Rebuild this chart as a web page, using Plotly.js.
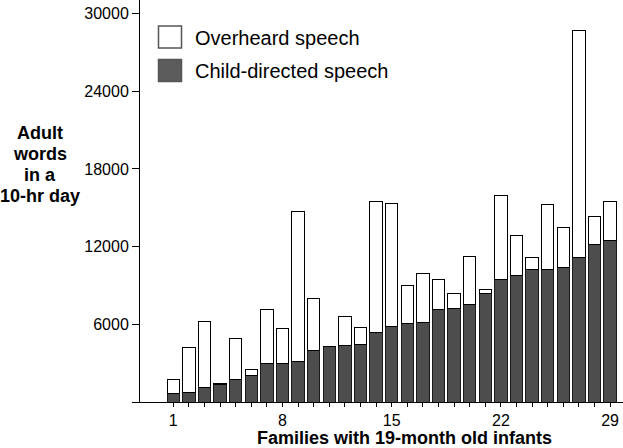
<!DOCTYPE html>
<html>
<head>
<meta charset="utf-8">
<script src="https://cdn.plot.ly/plotly-3.0.1.min.js"></script>
<style>html,body{margin:0;padding:0;background:#fff;}#chart{width:623px;height:448px;}</style>
</head>
<body>
<div id="chart"></div>
<script>
const families = Array.from({length: 29}, (_, i) => i + 1);
const childDirected = [670, 750, 1110, 1350, 1700, 2010, 2940, 2940, 3090, 3940, 4280, 4350, 4480, 5360, 5800, 6060, 6110, 7110, 7240, 7500, 8400, 9430, 9740, 10260, 10260, 10390, 11130, 12140, 12500];
const totalWords = [1700, 4200, 6210, 1450, 4920, 2530, 7110, 5700, 14690, 8020, 4280, 6630, 5770, 15460, 15330, 9020, 9950, 9490, 8400, 11240, 8710, 15950, 12860, 11130, 15280, 13450, 28660, 14360, 15520];
const overheard = totalWords.map((t, i) => Math.max(0, t - childDirected[i]));
const xTickVals = families;
const xTickText = families.map(f => [1, 8, 15, 22, 29].includes(f) ? String(f) : '');
const yTickVals = [0, 6000, 12000, 18000, 24000, 30000];
const yTickText = ['', '6000', '12000', '18000', '24000', '30000'];
const legendNames = ['Overheard speech', 'Child-directed speech'];
const yTitleLines = ['Adult', 'words', 'in a', '10-hr day'];
const xTitle = 'Families with 19-month old infants';
const darkGray = '#4d4d4d';

const traces = [
  {type: 'bar', x: families, y: childDirected, name: legendNames[1],
   marker: {color: darkGray, line: {color: '#1a1a1a', width: 1}}, width: 0.79},
  {type: 'bar', x: families, y: overheard, name: legendNames[0],
   marker: {color: '#ffffff', line: {color: '#000000', width: 1}}, width: 0.79}
];

const font = {family: 'Liberation Sans, Arial, sans-serif', color: '#000'};
const L = 140, W = 483, H = 402;
const px = v => (v - L) / W;
const py = v => (H - v) / H;

const annotations = [
  {xref: 'paper', yref: 'paper', x: px(193), y: py(37.5),
   xanchor: 'left', yanchor: 'middle', showarrow: false,
   text: legendNames[0], font: Object.assign({size: 20}, font)},
  {xref: 'paper', yref: 'paper', x: px(193), y: py(71),
   xanchor: 'left', yanchor: 'middle', showarrow: false,
   text: legendNames[1], font: Object.assign({size: 20}, font)},
  {xref: 'paper', yref: 'paper', x: px(404), y: py(438),
   xanchor: 'center', yanchor: 'middle', showarrow: false,
   text: '<b>' + xTitle + '</b>', font: Object.assign({size: 18}, font)}
];
const yTitleCenters = [133, 154, 175, 196];
yTitleLines.forEach((t, i) => annotations.push({
  xref: 'paper', yref: 'paper', x: px(40), y: py(yTitleCenters[i]),
  xanchor: 'center', yanchor: 'middle', showarrow: false,
  text: '<b>' + t + '</b>', font: Object.assign({size: 18}, font)
}));

const layout = {
  width: 623, height: 448,
  margin: {l: L, r: 0, t: 0, b: 46, pad: 0},
  barmode: 'stack',
  showlegend: false,
  paper_bgcolor: '#fff', plot_bgcolor: '#fff',
  font: Object.assign({size: 16}, font),
  xaxis: {
    range: [-1.135, 29.83], showgrid: false, zeroline: false,
    showline: true, linecolor: '#000', linewidth: 1,
    tickmode: 'array', tickvals: xTickVals, ticktext: xTickText,
    ticks: 'outside', ticklen: 4, tickcolor: '#000',
    tickfont: Object.assign({size: 16}, font)
  },
  yaxis: {
    range: [0, 31050], showgrid: false, zeroline: false,
    showline: true, linecolor: '#000', linewidth: 1,
    tickmode: 'array', tickvals: yTickVals, ticktext: yTickText,
    ticks: 'outside', ticklen: 7, tickcolor: '#000',
    tickfont: Object.assign({size: 16}, font)
  },
  shapes: [
    {type: 'rect', xref: 'paper', yref: 'paper',
     x0: px(158.5), x1: px(181.5), y0: py(48), y1: py(26),
     fillcolor: '#ffffff', line: {color: '#555', width: 1.5}},
    {type: 'rect', xref: 'paper', yref: 'paper',
     x0: px(158.5), x1: px(181.5), y0: py(81.5), y1: py(59.5),
     fillcolor: '#5c5c5c', line: {color: '#555', width: 1.5}}
  ],
  annotations: annotations
};

Plotly.newPlot('chart', traces, layout, {displayModeBar: false, staticPlot: true});
</script>
</body>
</html>
